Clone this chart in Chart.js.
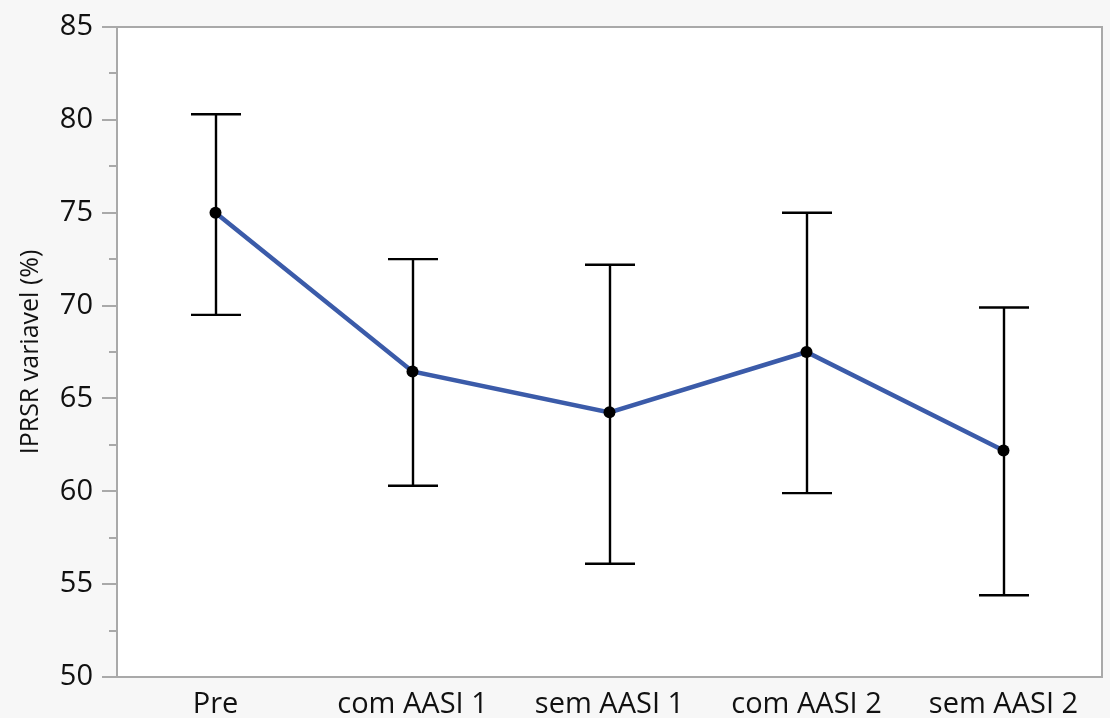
<!DOCTYPE html>
<html>
<head>
<meta charset="utf-8">
<script src="https://cdn.jsdelivr.net/npm/chart.js@4/dist/chart.umd.min.js"></script>
<style>
  html, body { margin: 0; padding: 0; background: #f7f7f7; }
  #wrap { width: 1110px; height: 718px; }
</style>
</head>
<body>
<div id="wrap"><canvas id="chart"></canvas></div>
<script>
// values
const categories = ['Pre', 'com AASI 1', 'sem AASI 1', 'com AASI 2', 'sem AASI 2'];
const means = [75.0, 66.45, 64.25, 67.5, 62.2];
const upper = [80.3, 72.5, 72.2, 75.0, 69.9];
const lower = [69.5, 60.3, 56.1, 59.9, 54.4];

const FONT = '"Open Sans", "Noto Sans", sans-serif';

// white plot area, grey frame and the y tick marks
const frame = {
    id: 'frame',
    beforeDraw(chart) {
        const { ctx, chartArea: a } = chart;
        ctx.save();
        ctx.fillStyle = '#ffffff';
        ctx.fillRect(a.left, a.top, a.right - a.left, a.bottom - a.top);
        ctx.restore();
    },
    afterDraw(chart) {
        const { ctx, chartArea: a } = chart;
        const y = chart.scales.y;
        ctx.save();
        ctx.strokeStyle = '#a9a9a9';
        ctx.lineWidth = 2;
        ctx.strokeRect(a.left, a.top, a.right - a.left, a.bottom - a.top);
        for (let v = y.min; v <= y.max + 0.001; v += 2.5) {
            const py = Math.round(y.getPixelForValue(v));
            const len = (v % 5 === 0) ? 15 : 8;
            ctx.beginPath();
            ctx.moveTo(a.left - len, py);
            ctx.lineTo(a.left, py);
            ctx.stroke();
        }
        ctx.restore();
    }
};

// error bars from the lower/upper arrays
const errorBars = {
    id: 'errorBars',
    beforeDatasetsDraw(chart) {
        const { ctx } = chart;
        const x = chart.scales.x, y = chart.scales.y;
        ctx.save();
        ctx.strokeStyle = '#000000';
        ctx.lineWidth = 2.4;
        categories.forEach((c, i) => {
            const px = Math.round(x.getPixelForValue(i));
            const top = y.getPixelForValue(upper[i]);
            const bot = y.getPixelForValue(lower[i]);
            ctx.beginPath();
            ctx.moveTo(px, top); ctx.lineTo(px, bot);
            ctx.moveTo(px - 25, top); ctx.lineTo(px + 25, top);
            ctx.moveTo(px - 25, bot); ctx.lineTo(px + 25, bot);
            ctx.stroke();
        });
        ctx.restore();
    }
};

new Chart(document.getElementById('chart'), {
    type: 'line',
    data: {
        labels: categories,
        datasets: [{
            data: means,
            borderColor: '#3b5ba9',
            borderWidth: 4.5,
            pointRadius: 6,
            pointBackgroundColor: '#000000',
            pointBorderColor: '#000000',
            pointBorderWidth: 0,
            tension: 0
        }]
    },
    options: {
        responsive: true,
        maintainAspectRatio: false,
        animation: false,
        layout: { padding: { top: 27, right: 8, left: 16, bottom: 0 } },
        plugins: { legend: { display: false }, tooltip: { enabled: false } },
        scales: {
            x: {
                offset: true,
                grid: { display: false },
                border: { display: false },
                ticks: { color: '#111', font: { family: FONT, size: 29 }, padding: 2, maxRotation: 0 },
                afterFit(s) { s.height = 41; }
            },
            y: {
                min: 50, max: 85,
                grid: { display: true, drawOnChartArea: false, drawTicks: true, tickLength: 15, color: 'transparent' },
                border: { display: false },
                ticks: { stepSize: 5, color: '#111', font: { family: FONT, size: 29 }, padding: 9 },
                title: { display: true, text: 'IPRSR variavel (%)', color: '#111', font: { family: FONT, size: 25 }, padding: { top: 0, bottom: 4 } },
                afterFit(s) { s.width = 101; }
            }
        }
    },
    plugins: [frame, errorBars]
});
</script>
</body>
</html>
